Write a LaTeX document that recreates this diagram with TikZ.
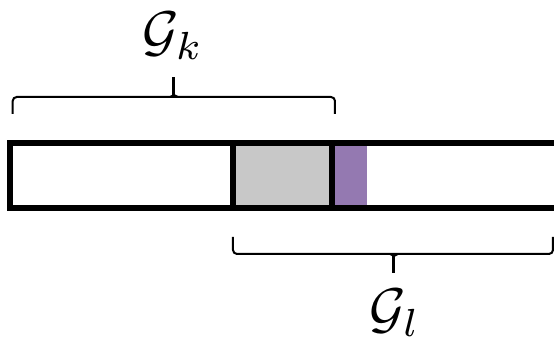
\documentclass[tikz,border=0pt]{standalone}
\usepackage{amsmath,amssymb}
\definecolor{overlapgray}{RGB}{200,200,200}
\definecolor{sharedpurple}{RGB}{148,121,177}

\begin{document}
\begin{tikzpicture}[x=0.5pt, y=0.5pt,
    cell/.style={line width=3pt},
    bracket/.style={line width=1pt, rounded corners=2pt},
    brackettip/.style={line width=1.5pt},
    grouplabel/.style={anchor=base, inner sep=0pt, scale=2.8}]
    \useasboundingbox (0,0) rectangle (554,342);

    % 填充区域
    \fill[overlapgray] (233,134) rectangle (332,199);
    \fill[sharedpurple] (332,134) rectangle (367,199);

    % 长条与分隔线
    \draw[cell] (10.5,134) rectangle (557,199);
    \draw[cell] (233,134) -- (233,199);
    \draw[cell] (332,134) -- (332,199);

    % 上方括号 G_k
    \coordinate (k1) at (12.7,228);
    \coordinate (k2) at (335,228);
    \coordinate (kmid) at (174,245);
    \coordinate (ktip) at (174,265);
    \draw[bracket] (k1) -- (12.7,245) -- (335,245) -- (k2);
    \draw[brackettip] (kmid) -- (ktip);
    \draw[bracket] (170,245) to[out=0,in=-90] (174,251) to[out=-90,in=180] (178,245);
    \node[grouplabel] (Gk) at (173,291) {$\mathcal{G}_k$};

    % 下方括号 G_l
    \coordinate (l1) at (233,105);
    \coordinate (l2) at (553,105);
    \coordinate (lmid) at (394,88);
    \coordinate (ltip) at (394,69);
    \draw[bracket] (l1) -- (233,88) -- (553,88) -- (l2);
    \draw[brackettip] (lmid) -- (ltip);
    \draw[bracket] (390,88) to[out=0,in=90] (394,82) to[out=90,in=180] (398,88);
    \node[grouplabel] (Gl) at (395,14) {$\mathcal{G}_l$};
\end{tikzpicture}
\end{document}
